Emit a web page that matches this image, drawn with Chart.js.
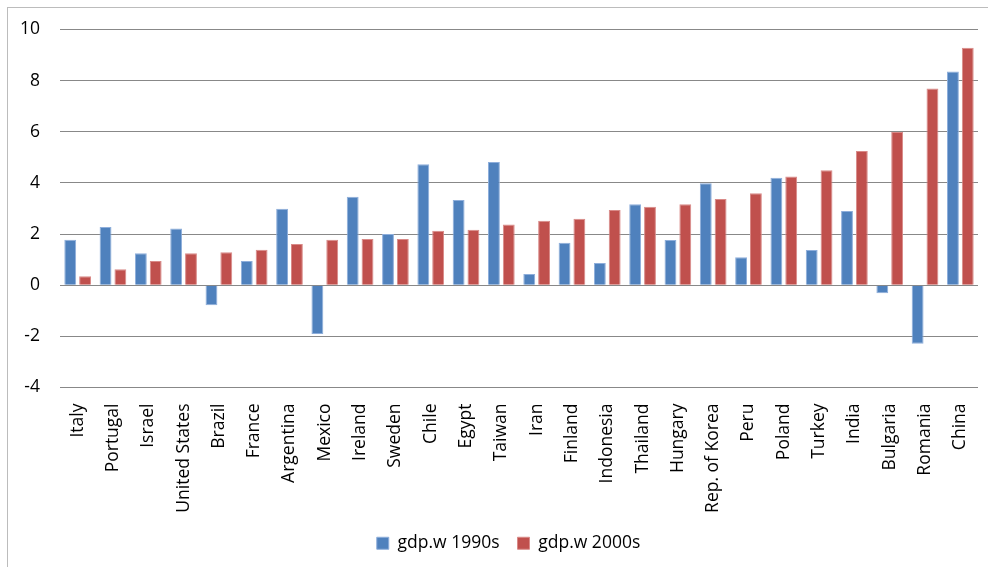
<!DOCTYPE html>
<html>
<head>
<meta charset="utf-8">
<script src="https://cdn.jsdelivr.net/npm/chart.js@4"></script>
<style>
  html, body { margin: 0; padding: 0; background: #fff; overflow: hidden; }
  #frame {
    position: absolute; left: 7px; top: 7px;
    width: 1001px; height: 600px;
    border: 1px solid #bcbcbc;
  }
  #chart { display: block; }
</style>
</head>
<body>
<div id="frame"><canvas id="chart" width="1001" height="559"></canvas></div>
<script>
// countries, sorted by 2000s growth
const countries = ['Italy', 'Portugal', 'Israel', 'United States', 'Brazil', 'France', 'Argentina',
    'Mexico', 'Ireland', 'Sweden', 'Chile', 'Egypt', 'Taiwan', 'Iran', 'Finland', 'Indonesia',
    'Thailand', 'Hungary', 'Rep. of Korea', 'Peru', 'Poland', 'Turkey', 'India', 'Bulgaria',
    'Romania', 'China'];

const gdp1990s = [1.78, 2.28, 1.25, 2.22, -0.78, 0.95, 2.99, -1.91, 3.46, 2.00, 4.73, 3.33, 4.82,
    0.44, 1.66, 0.87, 3.17, 1.77, 3.99, 1.09, 4.20, 1.38, 2.90, -0.31, -2.29, 8.36];

const gdp2000s = [0.35, 0.62, 0.95, 1.25, 1.29, 1.39, 1.61, 1.78, 1.81, 1.81, 2.13, 2.17, 2.37,
    2.52, 2.60, 2.94, 3.07, 3.17, 3.37, 3.60, 4.25, 4.50, 5.25, 5.99, 7.69, 9.29];

const yMin = -4, yMax = 10, yStep = 2;

const textFont = { family: 'Open Sans', size: 17.5 };

new Chart(document.getElementById('chart'), {
    type: 'bar',
    data: {
        labels: countries,
        datasets: [
            {
                label: 'gdp.w 1990s',
                data: gdp1990s,
                backgroundColor: '#4f81bd',
                borderColor: '#8eaedb',
                borderWidth: 1
            },
            {
                label: 'gdp.w 2000s',
                data: gdp2000s,
                backgroundColor: '#c0504d',
                borderColor: '#d98a88',
                borderWidth: 1
            }
        ]
    },
    options: {
        responsive: false,
        animation: false,
        categoryPercentage: 0.84,
        barPercentage: 0.8,
        layout: { padding: { top: 21.5, right: 0, bottom: 5, left: 0 } },
        plugins: {
            legend: {
                position: 'bottom',
                labels: {
                    boxWidth: 12,
                    boxHeight: 12,
                    padding: 18,
                    color: '#000',
                    font: textFont
                }
            },
            tooltip: { enabled: false }
        },
        scales: {
            x: {
                grid: { display: false },
                border: { display: false },
                ticks: {
                    minRotation: 90,
                    maxRotation: 90,
                    autoSkip: false,
                    padding: 8,
                    color: '#000',
                    font: textFont
                },
                afterFit: function(scale) { scale.height = 129; }
            },
            y: {
                min: yMin,
                max: yMax,
                grid: {
                    color: '#888888',
                    lineWidth: 1,
                    drawTicks: true,
                    tickLength: 17,
                    tickColor: 'rgba(0,0,0,0)'
                },
                border: { display: false },
                ticks: {
                    stepSize: yStep,
                    padding: 3,
                    color: '#000',
                    font: textFont
                },
                afterFit: function(scale) { scale.width = 52; }
            },
            // empty right-hand strip, keeps the legend centred in the frame
            yRight: {
                position: 'right',
                grid: { display: false },
                border: { display: false },
                ticks: { display: false },
                afterFit: function(scale) { scale.width = 31; }
            }
        }
    }
});
</script>
</body>
</html>
